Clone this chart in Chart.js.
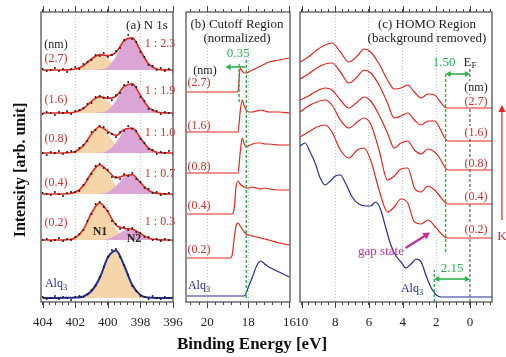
<!DOCTYPE html>
<html>
<head>
<meta charset="utf-8">
<script src="https://cdn.jsdelivr.net/npm/chart.js@4.4.1/dist/chart.umd.min.js"></script>
<style>
  body { margin: 0; background: #fff; }
  #fig { position: relative; width: 506px; height: 357px; overflow: hidden;
         font-family: "Liberation Serif", "Times New Roman", serif; }
  #fig canvas { position: absolute; left: 0; top: 0; }
  .t { position: absolute; white-space: nowrap; line-height: 1; transform: translate(-50%, -50%); }
  .t sub { font-size: 0.7em; vertical-align: -0.3em; line-height: 0; }
  .bg { background: #fff; padding: 0 1px; }
</style>
</head>
<body>
<div id="fig">
  <canvas id="chartA" width="506" height="357"></canvas>
  <canvas id="chartB" width="506" height="357"></canvas>
  <canvas id="chartC" width="506" height="357"></canvas>
</div>
<script>
// ---------------- (a) N 1s : fitted components, fit and raw points ----------------
const energyA = [404, 403.5, 403, 402.5, 402, 401.5, 401, 400.5, 400, 399.5, 399, 398.5, 398, 397.5, 397, 396.5, 396];
const energyDotsA = [404, 403.75, 403.5, 403.25, 403, 402.75, 402.5, 402.25, 402, 401.75, 401.5, 401.25, 401,
  400.75, 400.5, 400.25, 400, 399.75, 399.5, 399.25, 399, 398.75, 398.5, 398.25, 398, 397.75, 397.5, 397.25, 397,
  396.75, 396.5, 396.25, 396];
const thickness = ['2.7', '1.6', '0.8', '0.4', '0.2'];
const ratios = ['1 : 2.3', '1 : 1.9', '1 : 1.0', '1 : 0.7', '1 : 0.3'];

const n1_27 = [0, 0, 0, 0.1, 0.9, 4.3, 11, 15, 11, 4.3, 0.9, 0.1, 0, 0, 0, 0, 0];
const n2_27 = [0, 0, 0, 0, 0, 0, 0, 0.4, 3.3, 13.3, 28.3, 32.1, 19.4, 6.2, 1.1, 0.1, 0];
const n1_16 = [0, 0, 0, 0.1, 0.9, 4.5, 11.7, 16, 11.7, 4.5, 0.9, 0.1, 0, 0, 0, 0, 0];
const n2_16 = [0, 0, 0, 0, 0, 0, 0, 0.4, 3, 12.1, 25.7, 29.2, 17.6, 5.7, 1, 0.1, 0];
const n1_08 = [0, 0, 0, 0.2, 1.5, 7.4, 19, 26, 19, 7.4, 1.5, 0.2, 0, 0, 0, 0, 0];
const n2_08 = [0, 0, 0, 0, 0, 0, 0, 0.3, 2.6, 10.3, 21.9, 24.8, 15, 4.8, 0.8, 0.1, 0];
const n1_04 = [0, 0, 0, 0.2, 1.7, 8.2, 21.2, 29, 21.2, 8.2, 1.7, 0.2, 0, 0, 0, 0, 0];
const n2_04 = [0, 0, 0, 0, 0, 0, 0, 0.3, 2, 7.9, 16.7, 19, 11.4, 3.7, 0.6, 0.1, 0];
const n1_02 = [0, 0, 0, 0.2, 2.2, 10.5, 27, 37, 27, 10.5, 2.2, 0.2, 0, 0, 0, 0, 0];
const n2_02 = [0, 0, 0, 0, 0, 0, 0, 0.1, 1.1, 4.4, 9.4, 10.7, 6.5, 2.1, 0.4, 0, 0];
const n1_alq = [0, 0, 0, 0.2, 0.5, 1.5, 7, 20, 40.5, 47.5, 32.5, 13, 3, 0.4, 0, 0, 0];

const dots_27 = [1, -1, 0, 2, -1, 1, -2, 1, 3, 1, 6, 8, 10, 15, 14, 17, 13, 15, 19, 22, 30, 35, 31, 28, 18, 13, 5, 4, 0, 2, -1, 1, -2];
const dots_16 = [-1, 1, 0, -2, 1, 0, 2, -1, 2, 3, 5, 9, 10, 16, 17, 15, 16, 13, 18, 20, 28, 31, 28, 26, 16, 12, 4, 3, 2, -1, 1, 0, -2];
const dots_08 = [0, -2, 1, 0, 2, -1, 1, 2, 1, 5, 8, 12, 21, 23, 27, 26, 20, 19, 16, 21, 22, 27, 24, 22, 14, 10, 4, 3, -1, 1, 0, 2, -1];
const dots_04 = [1, 0, -1, 2, 0, -2, 1, 2, 2, 3, 9, 15, 20, 28, 30, 26, 24, 17, 17, 15, 20, 18, 21, 15, 12, 6, 5, 1, 2, -1, 0, 1, -1];
const dots_02 = [0, 1, -1, 0, 2, -1, 1, 0, 3, 6, 10, 19, 26, 36, 38, 33, 29, 19, 16, 11, 13, 10, 12, 8, 7, 3, 3, 0, 1, -1, 1, 0, -1];
const dots_alq = [1, -1, 0, 2, -1, 1, 0, -2, 1, 2, 1, 4, 8, 12, 21, 31, 41, 48, 49, 41, 33, 23, 12, 7, 2, 1, -1, 2, 0, -1, 1, 0, 1];

const offsetA = [232, 189, 149, 108, 62];   // vertical stacking of the spectra
const offsetAlqA = 4;

// ---------------- (b) cutoff region (normalized) ----------------
const energyB = [21, 20, 19.2, 19, 18.9, 18.8, 18.7, 18.6, 18.5, 18.4, 18.3, 18.2, 18.1, 18.0, 17.8, 17.6, 17.4, 17.2, 17.0, 16.5, 16];
const cut_27 = [0, 0, 0, 0, 0, 0, 0, 0, 1, 24, 21, 19, 19, 20, 22, 24, 26, 28, 30, 32, 34];
const cut_16 = [0, 0, 0, 0, 0, 0, 0, 0, 0, 20, 32, 26, 22, 20, 20, 21, 22, 21, 20, 20, 19];
const cut_08 = [0, 0, 0, 0, 0, 0, 0, 0, 0, 20, 35, 29, 26, 27, 29, 30, 30, 29, 29, 28, 28];
const cut_04 = [0, 0, 0, 0, 0, 0, 4, 27, 33, 30, 28, 27, 26, 26, 27, 26, 25, 26, 25, 24, 24];
const cut_02 = [0, 0, 0, 0, 0, 2, 18, 32, 35, 32, 29, 26, 24, 23, 22, 21, 20, 19, 18, 15, 13];
const cut_alq = [0, 0, 0, 0, 0, 0, 0, 0, 0, 0, 0, 0, 3, 9, 19, 30, 35, 32, 29, 24, 19];
const offsetB = [210, 170, 129, 88, 44];
const offsetAlqB = 6;
const cutoffAlq = 18.1, cutoffK = 18.45;

// ---------------- (c) HOMO region (background removed) ----------------
const energyC = [10.1, 9.6, 9.1, 8.6, 8.2, 7.7, 7.2, 6.7, 6.3, 5.9, 5.4, 4.9, 4.5, 4.1, 3.7, 3.3, 2.9, 2.5, 2.1, 1.8, 1.5, 1.3, 0, -1.4];
const homo_27 = [46, 51, 58, 63, 65, 56, 46, 52, 59, 56, 44, 28, 19, 20, 23, 16, 10, 14, 13, 7, 1, 0, 0, 0];
const homo_16 = [62, 67, 73, 77, 78, 69, 58, 64, 71, 68, 56, 38, 23, 25, 28, 21, 16, 20, 20, 13, 3, 0, 0, 0];
const homo_08 = [70, 74, 79, 82, 80, 70, 62, 68, 73, 69, 55, 37, 22, 27, 29, 20, 16, 21, 18, 12, 3, 0, 0, 0];
const homo_04 = [92, 98, 102, 104, 99, 84, 76, 82, 86, 80, 54, 24, 28, 35, 36, 16, 12, 18, 14, 8, 2, 0, 0, 0];
const homo_02 = [101, 106, 111, 113, 106, 88, 80, 88, 90, 78, 48, 26, 31, 39, 35, 16, 14, 18, 12, 6, 1, 0, 0, 0];
const energyAlqC = [10.1, 9.8, 9.5, 9.2, 8.9, 8.6, 8.3, 8.0, 7.7, 7.4, 7.0, 6.6, 6.2, 5.9, 5.6, 5.3, 5.0, 4.7,
  4.4, 4.1, 3.8, 3.5, 3.2, 2.9, 2.6, 2.3, 2.0, 1.7, 1.3, 0, -1.4];
const homo_alq = [151, 154, 145, 134, 119, 112, 116, 121, 122, 114, 100, 93, 91, 91, 95, 87, 69, 52, 41, 35,
  29, 33, 38, 35, 21, 9, 2, 0, 0, 0, 0];
const offsetC = [194, 161, 132, 98, 64];
const offsetAlqC = 5;
const onsetK = 1.45, onsetAlq = 2.12;

// ---------------- styles ----------------
const SERIF = '"Liberation Serif", "Times New Roman", serif';
const RED = '#e3261e', TXT_RED = '#c9302c', BLUE = '#252d94', GREEN = '#2fb04b', MAG = '#c2309b';
const YELLOW = '#f6d6a8', PINK = '#dba6d6';

const pts = (xs, ys, base) => xs.map((x, i) => ({ x: x, y: base + ys[i] }));
const isMajor = v => Math.abs(v / 2 - Math.round(v / 2)) < 1e-6;

function curve(xs, ys, base, color, width, order) {
  return { data: pts(xs, ys, base), borderColor: color, borderWidth: width, pointRadius: 0,
           cubicInterpolationMode: 'monotone', fill: false, order: order || 1 };
}
function area(xs, ys, base, color, order) {
  return { data: pts(xs, ys, base), borderWidth: 0, backgroundColor: color, pointRadius: 0,
           cubicInterpolationMode: 'monotone', fill: { value: base }, order: order };
}
function dots(xs, ys, base) {
  return { data: pts(xs, ys, base), showLine: false, pointRadius: 1, pointBorderWidth: 0,
           pointBackgroundColor: '#1b1b1b', order: 0 };
}
function segment(x1, y1, x2, y2, color, dash, width) {
  return { data: [{ x: x1, y: y1 }, { x: x2, y: y2 }], borderColor: color, borderWidth: width || 1.4,
           borderDash: dash || [], pointRadius: 0, tension: 0, order: 0 };
}
function arrow(x1, y1, x2, y2, color, rot1, rot2, width, size) {
  const s = segment(x1, y1, x2, y2, color, [], width);
  const r = size || 3.5;
  s.pointStyle = 'triangle';
  s.pointRadius = [rot1 === null ? 0 : r, r];
  s.pointRotation = [rot1 || 0, rot2];
  s.pointBackgroundColor = color;
  s.pointBorderColor = color;
  s.pointBorderWidth = 0;
  return s;
}

// frame around each panel
const frame = {
  id: 'frame',
  afterDraw(chart) {
    const { ctx, chartArea: a } = chart;
    ctx.save();
    ctx.strokeStyle = '#555';
    ctx.lineWidth = 1.3;
    ctx.strokeRect(a.left, a.top, a.right - a.left, a.bottom - a.top);
    ctx.restore();
  }
};
// longer ticks at the labelled energies, top and bottom
const majorTicks = {
  id: 'majorTicks',
  afterDraw(chart) {
    const { ctx, chartArea: a } = chart;
    const sx = chart.scales.x;
    ctx.save();
    ctx.strokeStyle = '#444';
    ctx.lineWidth = 1;
    sx.ticks.forEach(t => {
      if (!isMajor(t.value)) return;
      const px = Math.round(sx.getPixelForValue(t.value)) + 0.5;
      ctx.beginPath();
      ctx.moveTo(px, a.bottom); ctx.lineTo(px, a.bottom + 6);
      ctx.moveTo(px, a.top); ctx.lineTo(px, a.top - 6);
      ctx.stroke();
    });
    ctx.restore();
  }
};
// the K arrow sits outside the plot area, where Chart.js skips point markers: add its head here
const kHead = {
  id: 'kHead',
  afterDatasetsDraw(chart) {
    const meta = chart.getDatasetMeta(chart.data.datasets.length - 1);
    const p = meta.data[1];
    const ctx = chart.ctx;
    ctx.save();
    ctx.fillStyle = RED;
    ctx.beginPath();
    ctx.moveTo(p.x, p.y - 5);
    ctx.lineTo(p.x - 3.5, p.y + 2);
    ctx.lineTo(p.x + 3.5, p.y + 2);
    ctx.closePath();
    ctx.fill();
    ctx.restore();
  }
};

function options(left, right, min, max, edges) {
  const gridColor = c => (c.tick && isMajor(c.tick.value) && !edges.includes(Math.round(c.tick.value)))
    ? '#c2c5d6' : 'rgba(0,0,0,0)';
  const common = { type: 'linear', reverse: true, min: min, max: max };
  return {
    responsive: false,
    animation: false,
    events: [],
    layout: { padding: { left: left, right: 506 - right, top: 4, bottom: 25 } },
    plugins: { legend: { display: false }, tooltip: { enabled: false } },
    scales: {
      x: Object.assign({}, common, {
        position: 'bottom',
        ticks: { stepSize: 0.4, includeBounds: false, autoSkip: false, maxRotation: 0, padding: 10,
                 color: '#222', font: { family: SERIF, size: 13 },
                 callback: v => isMajor(v) ? Math.round(v) : '' },
        grid: { color: gridColor, tickColor: '#444', tickLength: 3, lineWidth: 1 },
        border: { display: false, dash: [1, 2] },
        afterFit: s => { s.height = 30; }
      }),
      x2: Object.assign({}, common, {
        position: 'top',
        ticks: { display: false, stepSize: 0.4, includeBounds: false, autoSkip: false },
        grid: { drawOnChartArea: false, tickColor: '#444', tickLength: 3 },
        border: { display: false },
        afterFit: s => { s.height = 8; }
      }),
      y: { display: false, min: 0, max: 290 }
    }
  };
}

window.onload = function () {
  // --- Panel (a) ---
  const n1A = [n1_27, n1_16, n1_08, n1_04, n1_02];
  const n2A = [n2_27, n2_16, n2_08, n2_04, n2_02];
  const dotsA = [dots_27, dots_16, dots_08, dots_04, dots_02];
  const setsA = [];
  thickness.forEach((t, k) => {
    const fit = n1A[k].map((v, i) => v + n2A[k][i]);
    setsA.push(area(energyA, n1A[k], offsetA[k], YELLOW, 4));
    setsA.push(area(energyA, n2A[k], offsetA[k], PINK, 3));
    setsA.push(curve(energyA, fit, offsetA[k], RED, 1.6, 2));
    setsA.push(dots(energyDotsA, dotsA[k], offsetA[k]));
  });
  setsA.push(area(energyA, n1_alq, offsetAlqA, YELLOW, 4));
  setsA.push(curve(energyA, n1_alq, offsetAlqA, BLUE, 2, 2));
  setsA.push(dots(energyDotsA, dots_alq, offsetAlqA));

  new Chart(document.getElementById('chartA'), {
    type: 'line',
    data: { datasets: setsA },
    options: options(41, 173, 396, 404.1, [404, 396]),
    plugins: [frame, majorTicks]
  });

  // --- Panel (b) ---
  const cutA = [cut_27, cut_16, cut_08, cut_04, cut_02];
  const setsB = cutA.map((c, k) => curve(energyB, c, offsetB[k], RED, 1.2));
  setsB.push(curve(energyB, cut_alq, offsetAlqB, BLUE, 1.2));
  setsB.push(segment(cutoffAlq, 4, cutoffAlq, 242, GREEN, [3, 2], 1.4));
  setsB.push(segment(cutoffK, 200, cutoffK, 240, GREEN, [3, 2], 1.4));
  setsB.push(arrow(cutoffAlq + 0.05, 235, 18.95, 235, GREEN, null, 270, 1.6));

  new Chart(document.getElementById('chartB'), {
    type: 'line',
    data: { datasets: setsB },
    options: options(186, 290, 15.97, 21.04, [16]),
    plugins: [frame, majorTicks]
  });

  // --- Panel (c) ---
  const homoA = [homo_27, homo_16, homo_08, homo_04, homo_02];
  const setsC = homoA.map((c, k) => curve(energyC, c, offsetC[k], RED, 1.2));
  setsC.push(curve(energyAlqC, homo_alq, offsetAlqC, BLUE, 1.2));
  setsC.push(segment(0, 0, 0, 235, '#666', [3, 2], 1.3));
  setsC.push(segment(onsetK, 50, onsetK, 230, GREEN, [3, 2], 1.4));
  setsC.push(segment(onsetAlq, 0, onsetAlq, 32, GREEN, [3, 2], 1.4));
  setsC.push(arrow(onsetK - 0.2, 228, 0.2, 228, GREEN, 270, 90, 1.6));
  setsC.push(arrow(onsetAlq - 0.2, 23, 0.2, 23, GREEN, 270, 90, 1.6));
  setsC.push(arrow(3.83, 54, 2.6, 67, MAG, null, 56, 2.2, 4.5));
  const kArrow = segment(-1.9, 82, -1.9, 192, RED, [], 1.2);
  kArrow.clip = false;
  setsC.push(kArrow);

  new Chart(document.getElementById('chartC'), {
    type: 'line',
    data: { datasets: setsC },
    options: options(300, 492, -1.31, 10.1, [10, 0]),
    plugins: [frame, majorTicks, kHead]
  });

  // --- text ---
  const notes = [
    ['(a) N 1s', 147, 24, '#222', 13],
    ['(nm)', 56, 44, '#222', 12],
    ['(2.7)', 56, 58, TXT_RED, 12], ['(1.6)', 56, 99, TXT_RED, 12], ['(0.8)', 56, 138, TXT_RED, 12],
    ['(0.4)', 56, 182, TXT_RED, 12], ['(0.2)', 56, 222, TXT_RED, 12],
    ['Alq<sub>3</sub>', 56, 283, BLUE, 12],
    [ratios[0], 160, 43, TXT_RED, 12], [ratios[1], 160, 90, TXT_RED, 12], [ratios[2], 160, 132, TXT_RED, 12],
    [ratios[3], 160, 173, TXT_RED, 12], [ratios[4], 160, 221, TXT_RED, 12],
    ['<b>N1</b>', 100, 231, '#222', 12], ['<b>N2</b>', 134, 238, '#222', 12],

    ['(b) Cutoff Region', 237, 23, '#222', 13], ['(normalized)', 237, 37, '#222', 13],
    ['0.35', 238, 52, GREEN, 13],
    ['(nm)', 205, 70, '#222', 12],
    ['(2.7)', 199, 82, TXT_RED, 12], ['(1.6)', 199, 125, TXT_RED, 12], ['(0.8)', 199, 166, TXT_RED, 12],
    ['(0.4)', 199, 205, TXT_RED, 12], ['(0.2)', 199, 249, TXT_RED, 12],
    ['Alq<sub>3</sub>', 199, 285, BLUE, 12],

    ['(c) HOMO Region', 427, 23, '#222', 13], ['(background removed)', 427, 37, '#222', 13],
    ['1.50', 444, 61, GREEN, 13], ['E<sub>F</sub>', 470, 61, '#222', 13],
    ['(nm)', 476, 87, '#222', 12, 'bg'],
    ['(2.7)', 476, 101, TXT_RED, 12, 'bg'], ['(1.6)', 476, 132, TXT_RED, 12, 'bg'],
    ['(0.8)', 476, 163, TXT_RED, 12, 'bg'], ['(0.4)', 476, 196, TXT_RED, 12, 'bg'],
    ['(0.2)', 476, 229, TXT_RED, 12, 'bg'],
    ['K', 502, 235, TXT_RED, 13],
    ['gap state', 381, 250, MAG, 13],
    ['Alq<sub>3</sub>', 412, 288, BLUE, 12],
    ['2.15', 452, 267, GREEN, 13],

    ['<b>Binding Energy [eV]</b>', 252, 343, '#111', 17]
  ];
  const fig = document.getElementById('fig');
  notes.forEach(n => {
    const d = document.createElement('div');
    d.className = 't' + (n[5] ? ' ' + n[5] : '');
    d.innerHTML = n[0];
    d.style.left = n[1] + 'px';
    d.style.top = n[2] + 'px';
    d.style.color = n[3];
    d.style.fontSize = n[4] + 'px';
    fig.appendChild(d);
  });
  const yTitle = document.createElement('div');
  yTitle.className = 't';
  yTitle.innerHTML = '<b>Intensity [arb. unit]</b>';
  yTitle.style.cssText = 'left:20px;top:170px;font-size:16px;color:#111;transform:translate(-50%,-50%) rotate(-90deg);';
  fig.appendChild(yTitle);
};
</script>
</body>
</html>
